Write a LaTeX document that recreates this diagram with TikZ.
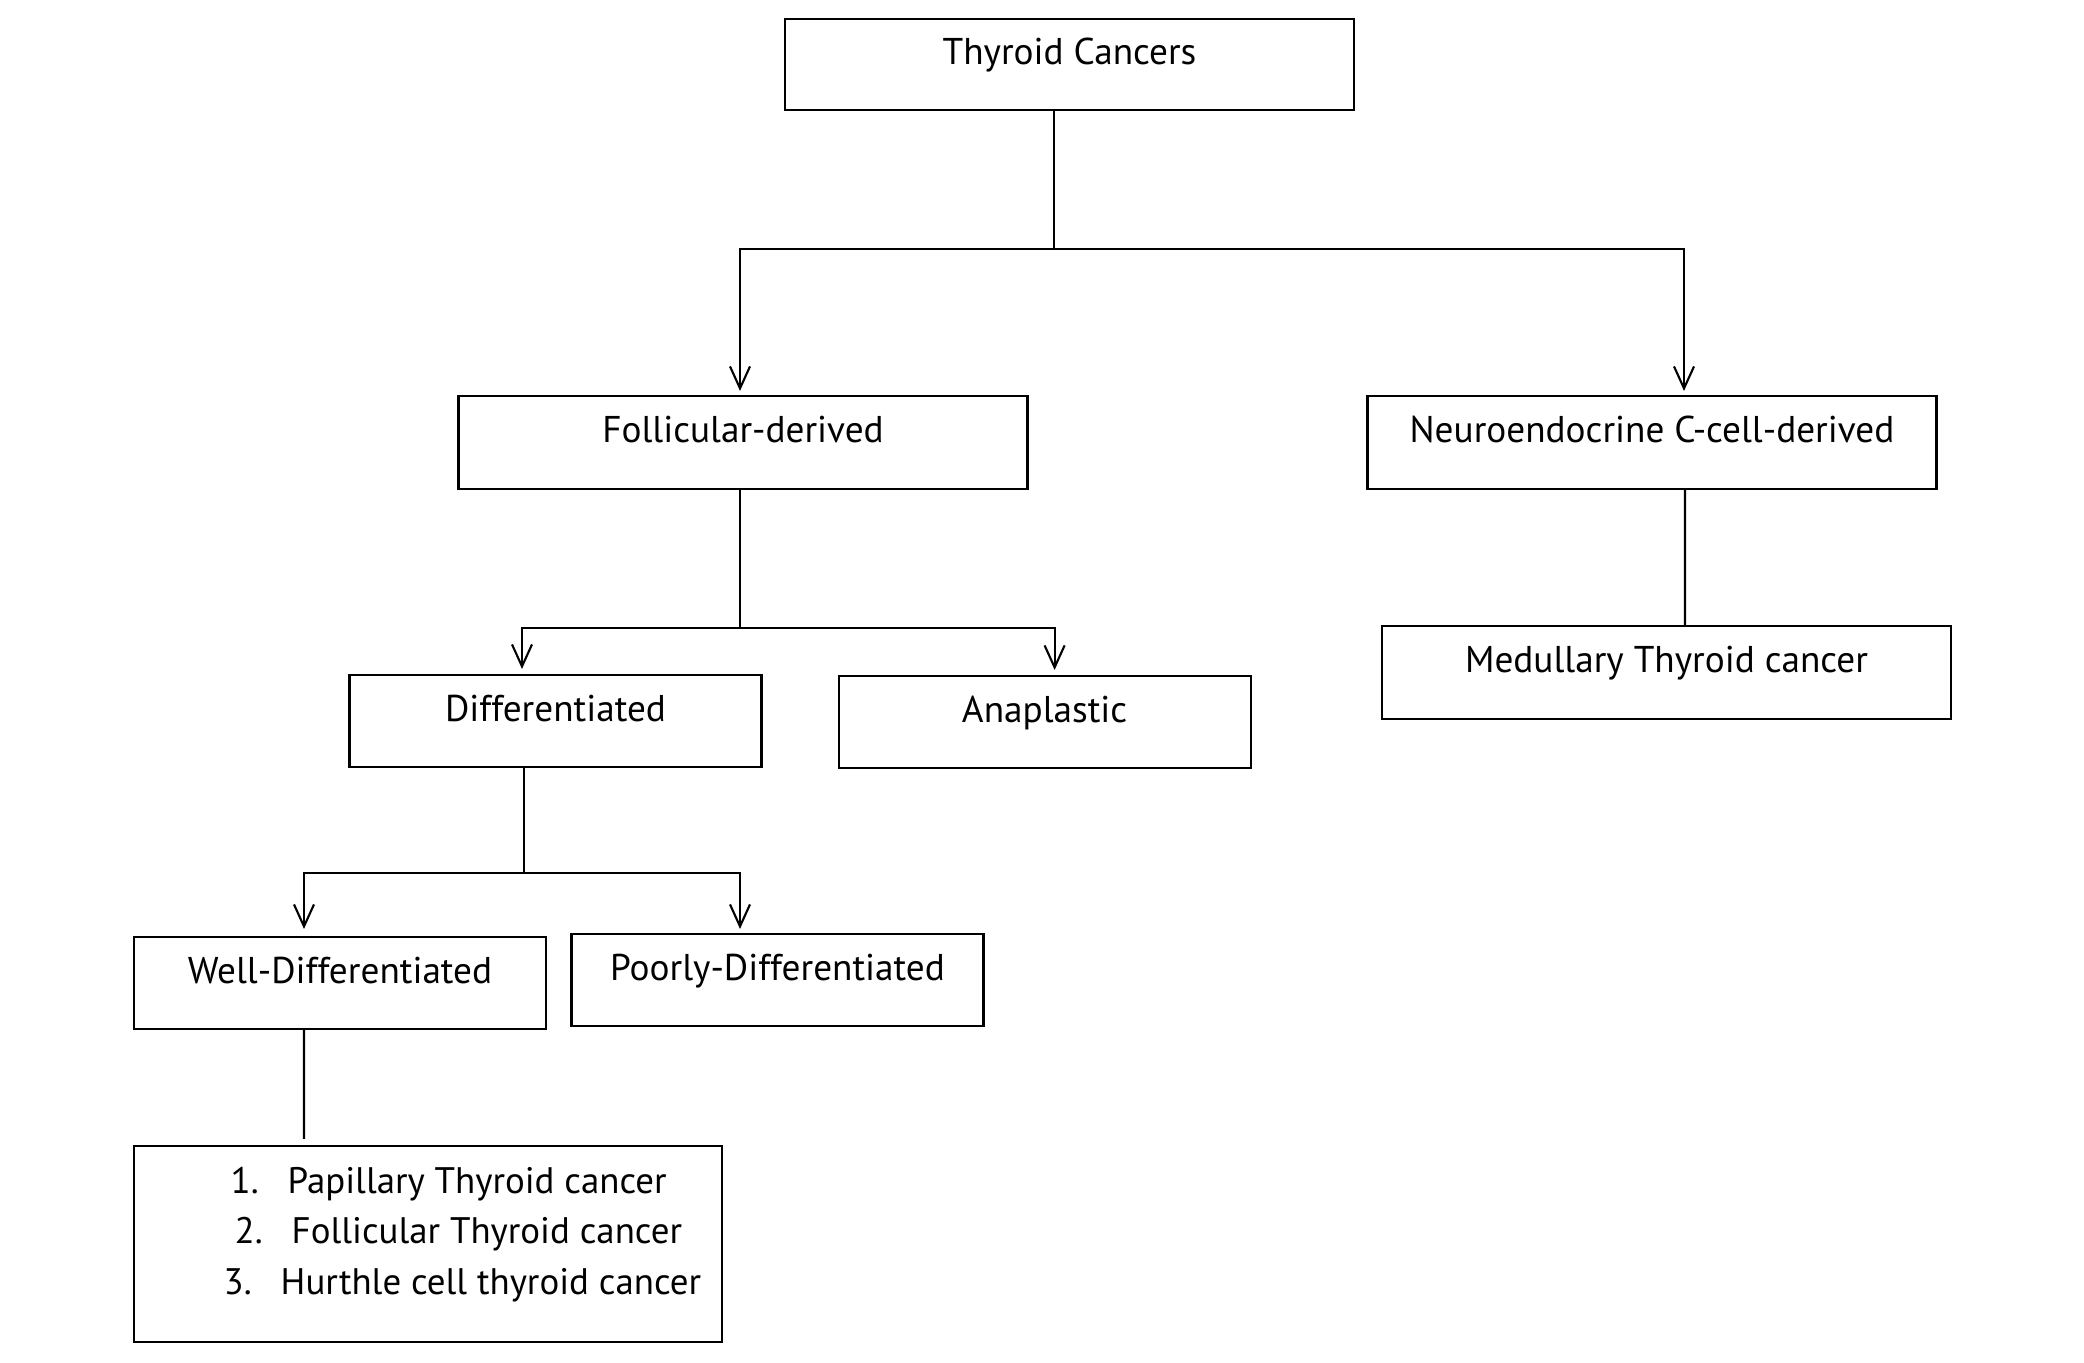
\documentclass[tikz,border=0pt]{standalone}
\usepackage{fontspec}
\setmainfont{PT Sans}
\usetikzlibrary{arrows.meta,calc}
\begin{document}
\begin{tikzpicture}[
  box/.style={draw=black,line width=0.6pt,rectangle,inner sep=0pt,align=center,
    text height=0.3cm,text depth=0.3cm,font=\fontsize{10.6}{12}\selectfont},
  item/.style={anchor=base west,inner sep=0pt,font=\fontsize{10.5}{12}\selectfont},
  conn/.style={line width=0.6pt,draw=black},
  arr/.style={conn,-{Straight Barb[length=0.22cm,width=0.2cm,line width=0.6pt]}}
]
\useasboundingbox (0,0) rectangle (20.84,-13.62);
\node[box,minimum width=5.69cm,minimum height=0.91cm] (thy) at (10.695,-0.645) {Thyroid Cancers};
\node[box,minimum width=5.69cm,minimum height=0.93cm] (fol) at (7.43,-4.425) {Follicular-derived};
\node[box,minimum width=5.69cm,minimum height=0.93cm] (neu) at (16.52,-4.425) {Neuroendocrine C-cell-derived};
\node[box,minimum width=4.12cm,minimum height=0.92cm] (dif) at (5.555,-7.21) {Differentiated};
\node[box,minimum width=4.12cm,minimum height=0.92cm] (ana) at (10.446,-7.22) {Anaplastic};
\node[box,minimum width=5.69cm,minimum height=0.93cm] (med) at (16.665,-6.725) {Medullary Thyroid cancer};
\node[box,minimum width=4.12cm,minimum height=0.92cm] (wel) at (3.40,-9.83) {Well-Differentiated};
\node[box,minimum width=4.12cm,minimum height=0.92cm] (poo) at (7.775,-9.80) {Poorly-Differentiated};
\node[box,minimum width=5.88cm,minimum height=1.96cm] (lst) at (4.28,-12.44) {};
\node[item] (n1) at (2.30,-11.93) {1.};
\node[item] (t1) at (2.87,-11.93) {Papillary Thyroid cancer};
\node[item] (n2) at (2.34,-12.435) {2.};
\node[item] (t2) at (2.91,-12.435) {Follicular Thyroid cancer};
\node[item] (n3) at (2.23,-12.94) {3.};
\node[item] (t3) at (2.80,-12.94) {Hurthle cell thyroid cancer};
% connectors
\coordinate (j1) at ($(thy.south)+(-0.155,-1.375)$);
\draw[conn] ($(thy.south)+(-0.155,0)$) -- (j1);
\draw[arr] (j1) -| ($(fol.north)+(-0.03,0.04)$);
\draw[arr] (j1) -| ($(neu.north)+(0.32,0.04)$);
\coordinate (j2) at ($(fol.south)+(-0.03,-1.38)$);
\draw[conn] ($(fol.south)+(-0.03,0)$) -- (j2);
\draw[arr] (j2) -| ($(dif.north)+(-0.335,0.05)$);
\draw[arr] (j2) -| ($(ana.north)+(0.10,0.05)$);
\draw[conn] ($(neu.south)+(0.33,0)$) -- ($(med.north)+(0.185,0)$);
\coordinate (j3) at ($(dif.south)+(-0.315,-1.05)$);
\draw[conn] ($(dif.south)+(-0.315,0)$) -- (j3);
\draw[arr] (j3) -| ($(wel.north)+(-0.36,0.07)$);
\draw[arr] (j3) -| ($(poo.north)+(-0.375,0.04)$);
\draw[conn] ($(wel.south)+(-0.36,0)$) -- ($(lst.north)+(-1.24,0.06)$);
\end{tikzpicture}
\end{document}
